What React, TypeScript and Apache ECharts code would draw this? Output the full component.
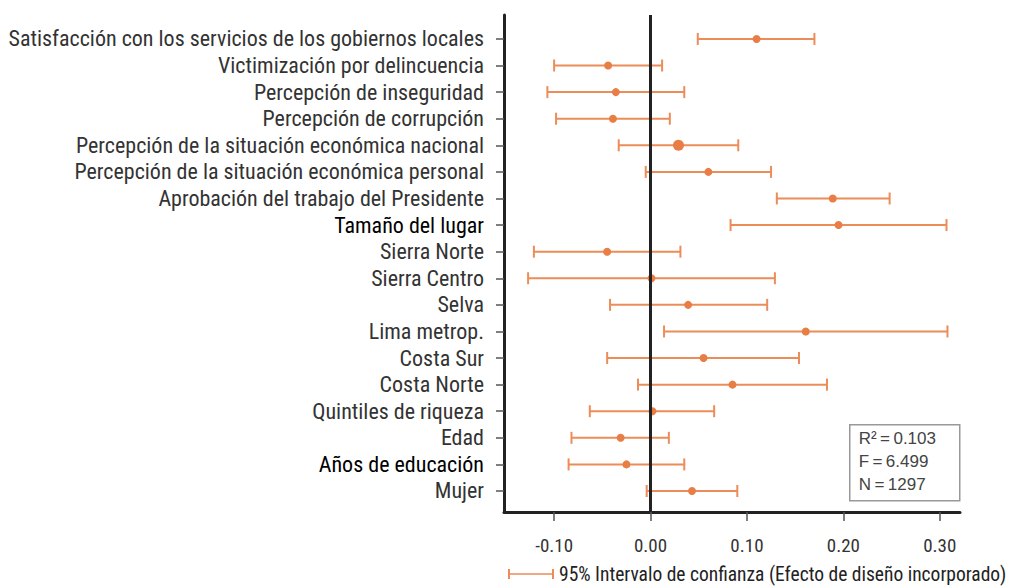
import React, { useEffect, useRef } from "react";
import * as echarts from "echarts";

const categories = [
  "Satisfacción con los servicios de los gobiernos locales",
  "Victimización por delincuencia",
  "Percepción de inseguridad",
  "Percepción de corrupción",
  "Percepción de la situación económica nacional",
  "Percepción de la situación económica personal",
  "Aprobación del trabajo del Presidente",
  "Tamaño del lugar",
  "Sierra Norte",
  "Sierra Centro",
  "Selva",
  "Lima metrop.",
  "Costa Sur",
  "Costa Norte",
  "Quintiles de riqueza",
  "Edad",
  "Años de educación",
  "Mujer",
];
const darkLabels = ["Tamaño del lugar", "Años de educación"];
const estimates = [0.11, -0.044, -0.036, -0.039, 0.029, 0.06, 0.189, 0.195, -0.045, 0.001, 0.039, 0.161, 0.055, 0.085, 0.002, -0.031, -0.025, 0.043];
const lower = [0.049, -0.1, -0.107, -0.098, -0.033, -0.005, 0.131, 0.083, -0.121, -0.127, -0.042, 0.014, -0.045, -0.013, -0.063, -0.082, -0.085, -0.004];
const upper = [0.17, 0.012, 0.035, 0.02, 0.091, 0.125, 0.248, 0.307, 0.031, 0.129, 0.121, 0.308, 0.154, 0.183, 0.066, 0.019, 0.035, 0.09];
const xTicks = [-0.1, 0, 0.1, 0.2, 0.3];
const statsLines = ["R\u00B2\u2009=\u20090.103", "F\u2009=\u20096.499", "N\u2009=\u20091297"];
const legendName = "95% Intervalo de confianza (Efecto de diseño incorporado)";

const barColor = "#EC8C58";
const dotColor = "#E87E45";
const narrow = "'Liberation Sans Narrow', 'Arial Narrow', 'Roboto Condensed', sans-serif";

export default function App() {
  const ref = useRef<HTMLDivElement>(null);
  useEffect(() => {
    if (!ref.current) return;
    const chart = echarts.init(ref.current, null, { renderer: "svg" });
    const rowIdx = categories.map((_, i) => i);
    const option: any = {
      animation: false,
      grid: { left: 504, right: 61, top: 15, bottom: 74, containLabel: false },
      legend: {
        left: 505,
        top: 561,
        padding: 3,
        itemWidth: 46,
        itemHeight: 10,
        itemGap: 10,
        data: [
          {
            name: legendName,
            icon: "path://M0,0h2v10h-2z M0,4.2h46v1.6h-46z M44,0h2v10h-2z",
          },
        ],
        textStyle: { fontFamily: narrow, fontSize: 19.5, color: "#222" },
      },
      xAxis: {
        type: "value",
        min: -0.152,
        max: 0.321,
        axisLine: { show: true, onZero: false, lineStyle: { color: "#222", width: 3 } },
        axisTick: { show: true, customValues: xTicks, length: 9, lineStyle: { color: "#555", width: 1.5 } },
        axisLabel: {
          customValues: xTicks,
          formatter: (v: number) => v.toFixed(2),
          fontFamily: narrow,
          fontSize: 19,
          color: "#333",
          margin: 24,
        },
        splitLine: { show: false },
      },
      yAxis: {
        type: "value",
        inverse: true,
        min: -0.9,
        max: 17.79,
        axisLine: { show: true, onZero: false, lineStyle: { color: "#222", width: 3 } },
        axisTick: { show: true, customValues: rowIdx, length: 8, lineStyle: { color: "#555", width: 1.5 } },
        axisLabel: {
          customValues: rowIdx,
          formatter: (v: number) => {
            const name = categories[Math.round(v)] || "";
            return darkLabels.includes(name) ? "{d|" + name + "}" : "{n|" + name + "}";
          },
          margin: 20,
          rich: {
            n: { fontFamily: narrow, fontSize: 22, color: "#333" },
            d: { fontFamily: narrow, fontSize: 22, color: "#000" },
          },
        },
        splitLine: { show: false },
      },
      series: [
        {
          name: legendName,
          type: "custom",
          z: 2,
          itemStyle: { color: barColor },
          encode: { x: [0, 1], y: 2 },
          data: lower.map((lo, i) => [lo, upper[i], i]),
          renderItem: (params: any, api: any) => {
            const lo = api.coord([api.value(0), api.value(2)]);
            const hi = api.coord([api.value(1), api.value(2)]);
            const h = 6;
            const st = { stroke: barColor, lineWidth: 2 };
            return {
              type: "group",
              children: [
                { type: "line", shape: { x1: lo[0], y1: lo[1], x2: hi[0], y2: hi[1] }, style: st },
                { type: "line", shape: { x1: lo[0], y1: lo[1] - h, x2: lo[0], y2: lo[1] + h }, style: st },
                { type: "line", shape: { x1: hi[0], y1: hi[1] - h, x2: hi[0], y2: hi[1] + h }, style: st },
              ],
            };
          },
        },
        {
          name: "zero",
          type: "scatter",
          z: 3,
          data: [],
          markLine: {
            silent: true,
            symbol: "none",
            label: { show: false },
            lineStyle: { color: "#222", width: 3, type: "solid" },
            data: [{ xAxis: 0 }],
          },
        },
        {
          name: "Estimación",
          type: "scatter",
          z: 4,
          itemStyle: { color: dotColor, opacity: 1 },
          data: estimates.map((e, i) => ({ value: [e, i], symbolSize: i === 4 ? 11 : 8 })),
        },
      ],
      graphic: [
        {
          type: "group",
          left: 849,
          top: 424,
          children: [
            { type: "rect", shape: { x: 0, y: 0, width: 110, height: 76 }, style: { fill: "#fff", stroke: "#999", lineWidth: 1.5 } },
            ...statsLines.map((t, k) => ({
              type: "text",
              x: 9,
              y: 5 + k * 23,
              style: { text: t, fontFamily: "'Liberation Sans', Arial, sans-serif", fontSize: 17, fill: "#444" },
            })),
          ],
        },
      ],
    };
    chart.setOption(option);
    return () => chart.dispose();
  }, []);
  return <div ref={ref} style={{ width: 1021, height: 586, position: "absolute", left: 0, top: 0 }} />;
}
